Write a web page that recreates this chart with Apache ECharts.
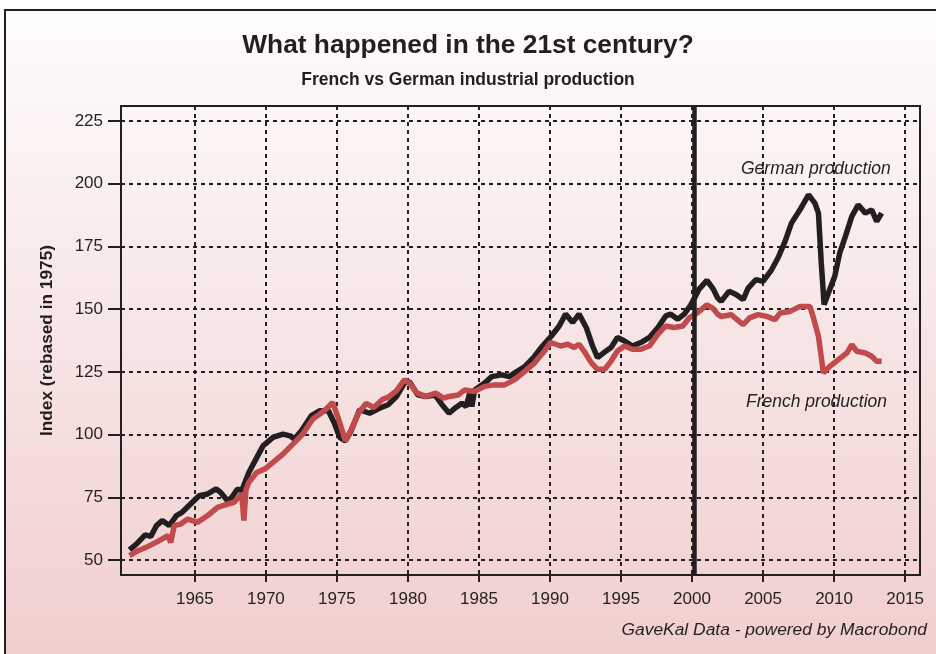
<!DOCTYPE html>
<html>
<head>
<meta charset="utf-8">
<script src="https://cdn.jsdelivr.net/npm/echarts@6/dist/echarts.min.js"></script>
<style>
  html, body { margin: 0; padding: 0; background: #fff; }
  #chart { width: 936px; height: 654px; }
</style>
</head>
<body>
<div id="chart"></div>
<script>
// German industrial production (index, rebased in 1975)
var germanYears = [1960.4, 1960.9, 1961.5, 1961.9, 1962.3, 1962.7, 1963.2, 1963.7, 1964.1, 1964.7,
  1965.3, 1965.9, 1966.5, 1966.8, 1967.3, 1967.6, 1968.0, 1968.3, 1968.8, 1969.3,
  1969.8, 1970.5, 1971.2, 1971.7, 1972.0, 1972.5, 1973.2, 1973.8, 1974.4, 1974.8,
  1975.2, 1975.6, 1976.0, 1976.6, 1977.3, 1978.0, 1978.6, 1979.2, 1979.75, 1980.1,
  1980.7, 1981.25, 1981.9, 1982.4, 1982.9, 1983.3, 1983.8, 1984.1, 1984.35, 1984.5,
  1984.7, 1985.4, 1985.9, 1986.6, 1987.15, 1987.5, 1988.2, 1988.9, 1989.5, 1990.1,
  1990.65, 1991.1, 1991.6, 1992.05, 1992.55, 1993.0, 1993.35, 1993.8, 1994.3, 1994.75,
  1995.25, 1995.8, 1996.4, 1997.0, 1997.6, 1998.15, 1998.5, 1999.0, 1999.45, 1999.9,
  2000.3, 2000.5, 2001.05, 2001.5, 2001.8, 2002.05, 2002.6, 2003.1, 2003.6, 2003.95,
  2004.5, 2005.0, 2005.6, 2006.05, 2006.55, 2007.0, 2007.6, 2008.2, 2008.65, 2008.9,
  2009.1, 2009.3, 2009.6, 2010.05, 2010.4, 2010.8, 2011.25, 2011.7, 2012.2, 2012.65,
  2013.0, 2013.35];
var germanIndex = [54, 56.4, 60, 59.4, 63.7, 65.7, 63.7, 67.7, 69, 72.3,
  75.6, 76.3, 78.3, 77, 73.6, 75, 78.3, 77.6, 84.9, 90.2,
  95.5, 98.9, 100.2, 99.5, 98.2, 101.5, 107.5, 109.5, 109.5, 104.8,
  98.9, 97.5, 101.5, 109.9, 108.5, 110.5, 111.9, 115.2, 120.5, 121.1,
  115.8, 115.2, 115.8, 111.9, 108.5, 110.5, 112.5, 111.2, 116.5, 111.2,
  117.8, 120.5, 123.1, 123.8, 123.1, 124.5, 127, 131.1, 135.5, 139.3,
  143.3, 148, 144.7, 148, 142.7, 135.3, 130.7, 132.7, 134.7, 138.7,
  137.3, 135.3, 136.7, 138.7, 142.7, 147.3, 148, 146, 148, 151.5,
  155.8, 158, 161.5, 158, 154.5, 153.1, 157.1, 155.8, 153.8, 158.4,
  161.8, 161.1, 165.7, 170.4, 177, 184.3, 189.6, 195.6, 192.3, 188.3,
  168.4, 151.8, 156.4, 163.1, 172.4, 179, 187, 191.6, 188.3, 189.6,
  185, 188.3];

// French industrial production (index, rebased in 1975)
var frenchYears = [1960.4, 1961.0, 1961.7, 1962.4, 1963.1, 1963.3, 1963.55, 1964.0, 1964.5, 1965.2,
  1965.9, 1966.6, 1967.3, 1967.75, 1968.3, 1968.45, 1968.6, 1968.8, 1969.35, 1969.95,
  1970.5, 1971.2, 1971.9, 1972.6, 1973.3, 1973.8, 1974.25, 1974.7, 1975.1, 1975.6,
  1976.0, 1976.5, 1977.05, 1977.6, 1978.2, 1978.7, 1979.2, 1979.75, 1980.1, 1980.65,
  1981.25, 1981.95, 1982.5, 1982.9, 1983.55, 1984.0, 1984.7, 1985.4, 1986.1, 1986.8,
  1987.5, 1988.2, 1988.9, 1989.5, 1990.05, 1990.75, 1991.25, 1991.7, 1992.05, 1992.4,
  1992.9, 1993.35, 1993.85, 1994.3, 1994.75, 1995.25, 1995.8, 1996.4, 1997.0, 1997.6,
  1998.15, 1998.75, 1999.35, 1999.8, 2000.4, 2001.05, 2001.5, 2001.8, 2002.05, 2002.75,
  2003.6, 2004.05, 2004.65, 2005.25, 2005.85, 2006.2, 2006.9, 2007.6, 2008.3, 2008.55,
  2008.9, 2009.25, 2009.7, 2010.3, 2010.9, 2011.25, 2011.6, 2012.2, 2012.65, 2013.0,
  2013.35];
var frenchIndex = [51.7, 53.7, 55.4, 57.4, 59.7, 57, 63.7, 64.3, 66.3, 65,
  67.7, 71, 72.3, 73, 76.3, 65.7, 78, 81, 84.9, 86.3,
  88.9, 92.2, 96.2, 100.2, 106.2, 108.2, 110.2, 112.8, 106.5, 97.5,
  101.8, 108.4, 112.4, 110.8, 114, 115.2, 117.5, 121.8, 120.5, 116.5,
  115.2, 116.5, 114.5, 115.2, 115.8, 117.8, 117.2, 119.2, 119.8, 119.8,
  121.8, 125.1, 128.5, 132.5, 136.7, 135.3, 136, 134.7, 136, 133.3,
  128.7, 126, 126, 129.3, 133.3, 135.3, 134, 134, 135.3, 140,
  143.3, 142.7, 143.3, 146.5, 148.6, 151.7, 150.2, 148, 147.1, 147.8,
  143.8, 146.5, 147.8, 147.1, 145.8, 148.5, 149.1, 151.1, 151.1, 146.5,
  139.2, 124.6, 127.2, 129.9, 132.5, 135.9, 133.2, 132.5, 131.2, 129.2,
  129.2];

var yearTicks = [1965, 1970, 1975, 1980, 1985, 1990, 1995, 2000, 2005, 2010, 2015];
var indexTicks = [50, 75, 100, 125, 150, 175, 200, 225];
var markerYear = 2000.15;

function zip(xs, ys) {
  return xs.map(function (x, i) { return [x, ys[i]]; });
}

var ink = '#231f20';
var font = 'Liberation Sans, Arial, sans-serif';

var chart = echarts.init(document.getElementById('chart'));
chart.setOption({
  animation: false,
  textStyle: { fontFamily: font },
  graphic: [{
    type: 'rect',
    z: -10,
    shape: { x: 5, y: 10, width: 1000, height: 700 },
    style: {
      stroke: ink,
      lineWidth: 2,
      fill: new echarts.graphic.LinearGradient(0, 0, 0, 1, [
        { offset: 0, color: '#fefcfc' },
        { offset: 1, color: '#efcaca' }
      ])
    }
  }, {
    type: 'text', left: 741, top: 160, z: 10,
    style: { text: 'German production', font: 'italic 17.5px ' + font, fill: ink }
  }, {
    type: 'text', left: 746, top: 393, z: 10,
    style: { text: 'French production', font: 'italic 17.5px ' + font, fill: ink }
  }, {
    type: 'text', right: 9, top: 622, z: 10,
    style: { text: 'GaveKal Data - powered by Macrobond', font: 'italic 17.4px ' + font, fill: ink }
  }],
  title: [{
    text: 'What happened in the 21st century?',
    left: 'center', top: 28,
    textStyle: { fontSize: 26.3, fontWeight: 'bold', color: ink, fontFamily: font }
  }, {
    text: 'French vs German industrial production',
    left: 'center', top: 66,
    textStyle: { fontSize: 17.5, fontWeight: 'bold', color: ink, fontFamily: font }
  }],
  grid: {
    left: 121, top: 106, width: 799, height: 469,
    show: true, borderColor: ink, borderWidth: 2, backgroundColor: 'transparent'
  },
  xAxis: {
    type: 'value', min: 1959.8, max: 2016.05,
    axisLine: { show: true, lineStyle: { color: ink, width: 2 } },
    axisTick: { show: true, length: 7, customValues: yearTicks, lineStyle: { color: ink, width: 2 } },
    axisLabel: {
      customValues: yearTicks, margin: 16, fontSize: 17, color: ink, fontFamily: font,
      formatter: function (v) { return String(v); }
    },
    splitLine: { show: true, lineStyle: { color: ink, width: 2, type: [4, 4] } }
  },
  yAxis: {
    type: 'value', min: 44, max: 231,
    name: 'Index (rebased in 1975)', nameLocation: 'middle', nameGap: 65,
    nameTextStyle: { fontSize: 17.3, fontWeight: 'bold', color: ink, fontFamily: font },
    axisLine: { show: true, lineStyle: { color: ink, width: 2 } },
    axisTick: { show: true, length: 13, customValues: indexTicks, lineStyle: { color: ink, width: 2 } },
    axisLabel: { customValues: indexTicks, margin: 18, fontSize: 17, color: ink, fontFamily: font },
    splitLine: { show: true, lineStyle: { color: ink, width: 2, type: [4, 4] } }
  },
  series: [{
    name: 'German production',
    type: 'line',
    data: zip(germanYears, germanIndex),
    showSymbol: false,
    lineStyle: { color: ink, width: 5.5 },
    z: 3,
    markLine: {
      silent: true, symbol: 'none', label: { show: false },
      lineStyle: { color: ink, width: 4.5, type: 'solid' },
      data: [{ xAxis: markerYear }]
    }
  }, {
    name: 'French production',
    type: 'line',
    data: zip(frenchYears, frenchIndex),
    showSymbol: false,
    lineStyle: { color: '#c04a4c', width: 5.5 },
    z: 4
  }]
});
</script>
</body>
</html>
